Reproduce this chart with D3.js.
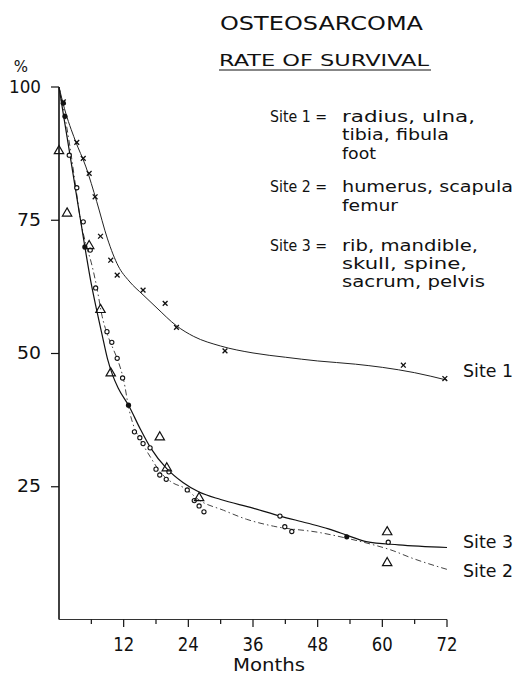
<!DOCTYPE html>
<html>
<head>
<meta charset="utf-8">
<script src="https://cdn.jsdelivr.net/npm/d3@7/dist/d3.min.js"></script>
<style>
  html, body { margin: 0; padding: 0; background: #fff; }
  svg { display: block; }
  text { font-family: "DejaVu Sans", sans-serif; fill: #111; }
</style>
</head>
<body>
<svg id="chart" width="519" height="674"></svg>
<script>
// ---------- data ----------
const title = "OSTEOSARCOMA";
const subtitle = "RATE OF SURVIVAL";
const xTicksMajor = [12, 24, 36, 48, 60, 72];
const xTicksMinor = [6, 18, 30, 42, 54, 66];
const yTicks = [25, 50, 75, 100];
const xLabel = "Months";
const yUnit = "%";

const legendRows = [
  ["Site 1 =", "radius, ulna,"],
  ["", "tibia, fibula"],
  ["", "foot"],
  ["Site 2 =", "humerus, scapula"],
  ["", "femur"],
  ["Site 3 =", "rib, mandible,"],
  ["", "skull, spine,"],
  ["", "sacrum, pelvis"]
];

// fitted survival curves [month, %]
const site1Curve = [[0,100],[1,96],[3,90],[5,85],[7,78.5],[9,71.5],[11,66.4],[13,63.6],[15.6,61.0],[18,58.7],[21.8,55.2],[25,53.2],[30,51.4],[36,50.1],[42,49.3],[48,48.6],[55,48],[60,47.4],[66,46.4],[72,45]];
const site2Curve = [[0,100],[1,95],[2,89],[3,82],[4,75],[5,70.5],[6,67],[7,62.5],[8,57],[9,53.5],[10,51],[11,48.5],[12,45],[13,39.5],[14,36],[15,34],[17,30.5],[19,27.5],[21,25.8],[23.4,24.7],[26,22.5],[30.5,20.6],[34.8,18.9],[39.8,17.6],[48.4,16.4],[54,15.2],[58,14.2],[62,13],[65,11.8],[72,9.5]];
const site3Curve = [[0,100],[1,93.7],[2,87.5],[3,81.2],[4,75],[5,68.8],[6,63],[7,58.1],[8,53.5],[9,49],[10,45.8],[11,43.5],[13,40.1],[15,36],[17,32.3],[20,28.4],[23,25.8],[26,24],[30,22.6],[36,21],[41,19.5],[46,18.2],[50,17.1],[54,15.7],[57,14.7],[63,14.1],[72,13.6]];

// observed points [month, %]
const site1Points = [[0.8,97.2],[3.3,89.6],[4.5,86.6],[5.6,83.8],[6.7,79.4],[7.7,72.0],[9.6,67.5],[10.8,64.7],[15.6,61.9],[19.7,59.4],[21.8,54.9],[30.8,50.5],[63.9,47.8],[71.6,45.3]];
const circlePoints = [[1.9,87.2],[3.3,81.1],[4.5,74.7],[5.8,69.4],[6.8,62.3],[8.9,54.1],[9.8,52.1],[10.8,49.1],[11.8,45.4],[14.0,35.3],[15.0,34.2],[15.6,33.1],[16.9,32.3],[18.0,28.3],[18.7,27.2],[19.9,26.4],[20.4,27.8],[23.8,24.4],[25.1,22.4],[26.0,21.4],[26.9,20.3],[41.0,19.5],[41.9,17.5],[43.2,16.6],[61.1,14.6]];
const trianglePoints = [[0,88],[1.5,76.3],[5.6,70.2],[7.7,58.2],[9.6,46.3],[18.7,34.3],[20.0,28.5],[26.0,22.9],[60.9,16.5],[60.9,10.7]];
const filledPoints = [[0.8,97],[1.1,94.5],[4.8,70],[12.9,40.3],[53.4,15.6]];

const endLabels = [
  { name: "Site 1", value: 46.9 },
  { name: "Site 3", value: 14.7 },
  { name: "Site 2", value: 9.2 }
];

// ---------- drawing ----------
const svg = d3.select("#chart");
const x = d3.scaleLinear().domain([0, 72]).range([59, 447]);
const y = d3.scaleLinear().domain([0, 100]).range([620, 87]);
const ink = "#111";

function stretched(sel, len) {
  return sel.attr("textLength", len).attr("lengthAdjust", "spacingAndGlyphs");
}

// titles
stretched(svg.append("text").attr("x", 220).attr("y", 29.5)
  .attr("font-size", 19.5).text(title), 203);
stretched(svg.append("text").attr("x", 219).attr("y", 66)
  .attr("font-size", 16.5).text(subtitle), 210);
svg.append("line").attr("x1", 219).attr("x2", 431).attr("y1", 70).attr("y2", 70)
  .attr("stroke", ink).attr("stroke-width", 1.2);

// legend text
const legendWidths = [133, 107, 34, 171, 56, 136, 125, 143];
const legendBaselines = [121.5, 140, 158.5, 192, 210.5, 250.5, 268.5, 287];
legendRows.forEach((r, i) => {
  if (r[0]) {
    stretched(svg.append("text").attr("x", 270).attr("y", legendBaselines[i])
      .attr("font-size", 15.5).text(r[0]), 57);
  }
  stretched(svg.append("text").attr("x", 342).attr("y", legendBaselines[i])
    .attr("font-size", 15.5).text(r[1]), legendWidths[i]);
});

// axes
const axisG = svg.append("g");
axisG.append("line").attr("x1", x(0)).attr("x2", x(0)).attr("y1", y(100)).attr("y2", 619.5)
  .attr("stroke", ink).attr("stroke-width", 1.6);
axisG.append("line").attr("x1", x(0)).attr("x2", x(72)).attr("y1", 619.5).attr("y2", 619.5)
  .attr("stroke", "#333").attr("stroke-width", 1.2);

yTicks.forEach(v => {
  axisG.append("line").attr("x1", x(0) - 8).attr("x2", x(0)).attr("y1", y(v)).attr("y2", y(v))
    .attr("stroke", ink).attr("stroke-width", 1.2);
  stretched(axisG.append("text").attr("x", 41).attr("y", y(v) + 5.5).attr("text-anchor", "end")
    .attr("font-size", 17.5).text(v), v === 100 ? 32 : 24);
});
axisG.append("text").attr("x", 21).attr("y", 72).attr("text-anchor", "middle")
  .attr("font-size", 15).text(yUnit);

xTicksMajor.forEach(v => {
  axisG.append("line").attr("x1", x(v)).attr("x2", x(v)).attr("y1", 619.5).attr("y2", 627)
    .attr("stroke", ink).attr("stroke-width", 1.2);
  stretched(axisG.append("text").attr("x", x(v)).attr("y", 650.5).attr("text-anchor", "middle")
    .attr("font-size", 19).text(v), 21);
});
xTicksMinor.forEach(v => {
  axisG.append("line").attr("x1", x(v)).attr("x2", x(v)).attr("y1", 619.5).attr("y2", 624)
    .attr("stroke", ink).attr("stroke-width", 1.2);
});
stretched(axisG.append("text").attr("x", 269).attr("y", 671).attr("text-anchor", "middle")
  .attr("font-size", 18).text(xLabel), 72);

// curves
const line = d3.line().x(d => x(d[0])).y(d => y(d[1])).curve(d3.curveMonotoneX);
svg.append("path").datum(site1Curve).attr("d", line)
  .attr("fill", "none").attr("stroke", "#222").attr("stroke-width", 1);
svg.append("path").datum(site2Curve).attr("d", line)
  .attr("fill", "none").attr("stroke", "#444").attr("stroke-width", 1)
  .attr("stroke-dasharray", "6,3,1.5,3");
svg.append("path").datum(site3Curve).attr("d", line)
  .attr("fill", "none").attr("stroke", "#111").attr("stroke-width", 1.2);

// markers
const xm = svg.append("g").attr("stroke", ink).attr("stroke-width", 1.3);
site1Points.forEach(d => {
  const cx = x(d[0]), cy = y(d[1]), s = 2.4;
  xm.append("line").attr("x1", cx - s).attr("x2", cx + s).attr("y1", cy - s).attr("y2", cy + s);
  xm.append("line").attr("x1", cx - s).attr("x2", cx + s).attr("y1", cy + s).attr("y2", cy - s);
});
svg.append("g").selectAll("circle").data(circlePoints).join("circle")
  .attr("cx", d => x(d[0])).attr("cy", d => y(d[1])).attr("r", 2.1)
  .attr("fill", "#fff").attr("stroke", ink).attr("stroke-width", 1.1);
const tri = d3.symbol().type(d3.symbolTriangle).size(38);
svg.append("g").selectAll("path").data(trianglePoints).join("path")
  .attr("transform", d => `translate(${x(d[0])},${y(d[1])})`)
  .attr("d", tri).attr("fill", "none").attr("stroke", ink).attr("stroke-width", 1.2);
svg.append("g").selectAll("circle").data(filledPoints).join("circle")
  .attr("cx", d => x(d[0])).attr("cy", d => y(d[1])).attr("r", 2.6).attr("fill", ink);

// end labels
endLabels.forEach(l => {
  stretched(svg.append("text").attr("x", 463).attr("y", y(l.value) + 6.5)
    .attr("font-size", 17).text(l.name), 50);
});
</script>
</body>
</html>
